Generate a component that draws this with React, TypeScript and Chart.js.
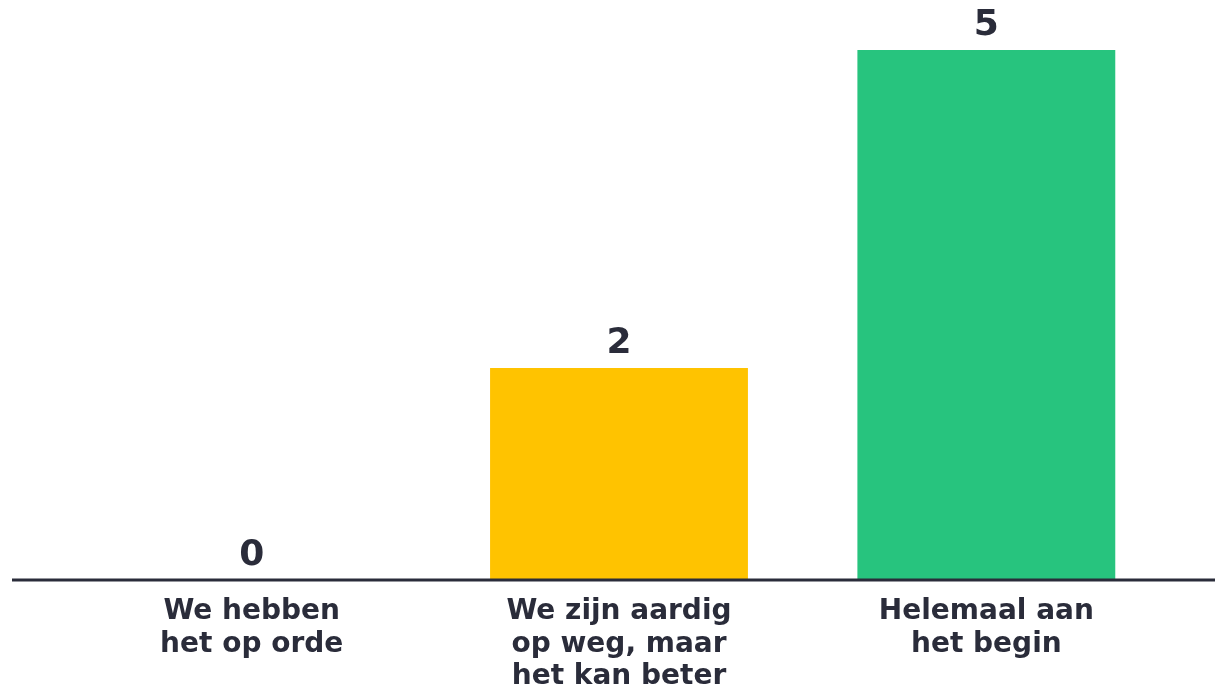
import React, { useEffect, useRef } from "react";
import { Chart, registerables } from "chart.js";

Chart.register(...registerables);

const categories: string[][] = [
  ["We hebben", "het op orde"],
  ["We zijn aardig", "op weg, maar", "het kan beter"],
  ["Helemaal aan", "het begin"],
];
const values: number[] = [0, 2, 5];
const barColors: string[] = ["#FFC300", "#FFC300", "#27C47E"];
const textColor = "#2A2C3A";
const fontFamily = "'DejaVu Sans', 'Open Sans', sans-serif";

const valueLabelPlugin = {
  id: "valueLabels",
  afterDatasetsDraw(chart: any) {
    const ctx = chart.ctx;
    const meta = chart.getDatasetMeta(0);
    ctx.save();
    ctx.fillStyle = textColor;
    ctx.font = `700 36px ${fontFamily}`;
    ctx.textAlign = "center";
    ctx.textBaseline = "alphabetic";
    meta.data.forEach((bar: any, i: number) => {
      ctx.fillText(String(values[i]), bar.x, bar.y - 15);
    });
    ctx.restore();
  },
};

const baselinePlugin = {
  id: "baseline",
  afterDatasetsDraw(chart: any) {
    const ctx = chart.ctx;
    const y = chart.scales.y.getPixelForValue(0);
    ctx.save();
    ctx.strokeStyle = textColor;
    ctx.lineWidth = 3;
    ctx.beginPath();
    ctx.moveTo(12, y);
    ctx.lineTo(chart.width, y);
    ctx.stroke();
    ctx.restore();
  },
};

export default function App() {
  const ref = useRef<HTMLCanvasElement>(null);
  useEffect(() => {
    if (!ref.current) return;
    const chart = new Chart(ref.current, {
      type: "bar",
      data: {
        labels: categories,
        datasets: [
          {
            data: values,
            backgroundColor: barColors,
            borderWidth: 0,
            categoryPercentage: 1,
            barPercentage: 0.702,
          },
        ],
      },
      options: {
        animation: false,
        responsive: false,
        maintainAspectRatio: false,
        layout: { padding: { left: 68, right: 45, top: 50, bottom: 0 } },
        plugins: { legend: { display: false }, tooltip: { enabled: false } },
        scales: {
          x: {
            grid: { display: false },
            border: { display: false },
            ticks: {
              color: textColor,
              font: { family: fontFamily, size: 28, weight: "bold", lineHeight: 1.15 },
              padding: 8,
              maxRotation: 0,
              autoSkip: false,
            },
            afterFit: (scale: any) => {
              scale.height = 110;
            },
          },
          y: {
            display: false,
            min: 0,
            max: 5,
          },
        },
      },
      plugins: [valueLabelPlugin, baselinePlugin],
    });
    return () => chart.destroy();
  }, []);
  return (
    <div style={{ position: "absolute", left: 0, top: 0, width: 1215, height: 690, background: "#fff" }}>
      <canvas ref={ref} width={1215} height={690} style={{ width: 1215, height: 690 }} />
    </div>
  );
}
